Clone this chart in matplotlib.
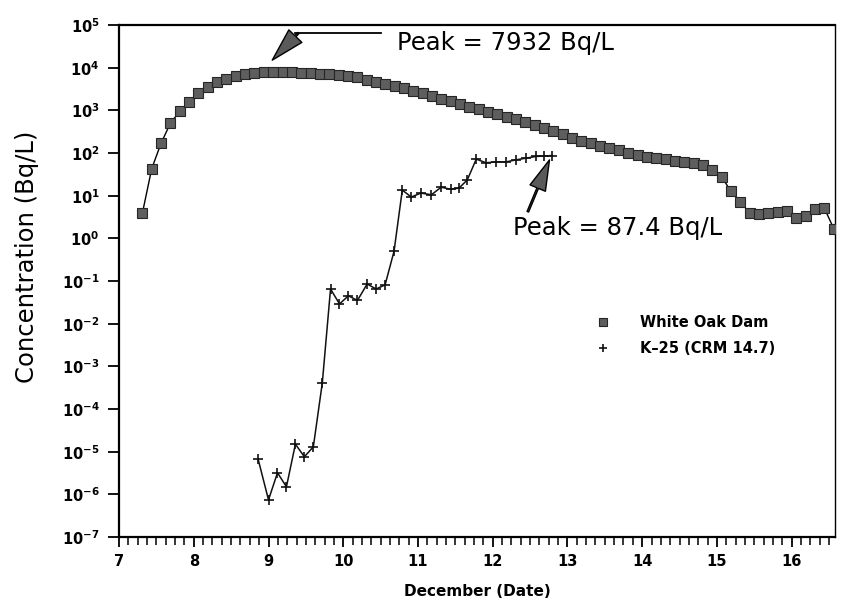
import matplotlib
matplotlib.use("Agg")
import matplotlib.pyplot as plt
from matplotlib.ticker import MultipleLocator, FixedLocator

# ---------------- data ----------------
wod_day = [7.3125, 7.4375, 7.5625, 7.6875, 7.8125, 7.9375, 8.0625, 8.1875, 8.3125, 8.4375,
           8.5625, 8.6875, 8.8125, 8.9375, 9.0625, 9.1875, 9.3125, 9.4375, 9.5625, 9.6875,
           9.8125, 9.9375, 10.0625, 10.1875, 10.3125, 10.4375, 10.5625, 10.6875, 10.8125, 10.9375,
           11.0625, 11.1875, 11.3125, 11.4375, 11.5625, 11.6875, 11.8125, 11.9375, 12.0625, 12.1875,
           12.3125, 12.4375, 12.5625, 12.6875, 12.8125, 12.9375, 13.0625, 13.1875, 13.3125, 13.4375,
           13.5625, 13.6875, 13.8125, 13.9375, 14.0625, 14.1875, 14.3125, 14.4375, 14.5625, 14.6875,
           14.8125, 14.9375, 15.0625, 15.1875, 15.3125, 15.4375, 15.5625, 15.6875, 15.8125, 15.9375,
           16.0625, 16.1875, 16.3125, 16.4375, 16.5625]
wod_conc = [3.9, 43, 170, 500, 950, 1580, 2500, 3550, 4570, 5500,
            6300, 7000, 7500, 7820, 7932, 7890, 7760, 7590, 7410, 7160,
            6920, 6610, 6310, 5890, 5250, 4680, 4170, 3720, 3310, 2880,
            2510, 2190, 1860, 1620, 1410, 1230, 1070, 933, 813, 708,
            617, 525, 447, 380, 324, 275, 229, 195, 170, 148,
            129, 115, 102, 91, 81, 76, 71, 66, 63, 59,
            52, 40, 28, 12.6, 7.1, 4.0, 3.8, 3.9, 4.2, 4.4,
            3.0, 3.3, 4.9, 5.1, 1.7]

k25_day = [8.86, 9.00, 9.12, 9.24, 9.36, 9.48, 9.60, 9.72, 9.83, 9.95,
           10.07, 10.19, 10.32, 10.44, 10.56, 10.68, 10.79, 10.91, 11.04, 11.18,
           11.31, 11.44, 11.55, 11.66, 11.78, 11.91, 12.05, 12.18, 12.31, 12.45,
           12.58, 12.69, 12.80]
k25_conc = [6.8e-6, 7.4e-7, 3.2e-6, 1.5e-6, 1.5e-5, 7.6e-6, 1.3e-5, 4.1e-4, 6.5e-2, 2.9e-2,
            4.5e-2, 3.5e-2, 8.5e-2, 6.5e-2, 8.1e-2, 0.5, 13.5, 9.3, 11.5, 10.5,
            15.8, 14.1, 15.1, 23.4, 72, 59, 62, 62, 69, 76,
            83, 85, 87.4]

series_labels = ["White Oak Dam", "K\u201325 (CRM 14.7)"]
x_ticks = [7, 8, 9, 10, 11, 12, 13, 14, 15, 16]
x_tick_labels = ["7", "8", "9", "10", "11", "12", "13", "14", "15", "16"]
y_ticks = [1e-7, 1e-6, 1e-5, 1e-4, 1e-3, 1e-2, 1e-1, 1e0, 1e1, 1e2, 1e3, 1e4, 1e5]
y_tick_labels = [r"$\mathbf{10^{-7}}$", r"$\mathbf{10^{-6}}$", r"$\mathbf{10^{-5}}$",
                 r"$\mathbf{10^{-4}}$", r"$\mathbf{10^{-3}}$", r"$\mathbf{10^{-2}}$",
                 r"$\mathbf{10^{-1}}$", r"$\mathbf{10^{0}}$", r"$\mathbf{10^{1}}$",
                 r"$\mathbf{10^{2}}$", r"$\mathbf{10^{3}}$", r"$\mathbf{10^{4}}$",
                 r"$\mathbf{10^{5}}$"]
peak1_text = "Peak = 7932 Bq/L"
peak2_text = "Peak = 87.4 Bq/L"

# ---------------- figure ----------------
plt.rcParams['font.family'] = ['DejaVu Sans']
fig = plt.figure(figsize=(8.43, 6.13), dpi=100)
ax = fig.add_axes([0.1412, 0.124, 0.8493, 0.8352])

ax.set_yscale('log')
ax.set_xlim(7, 16.58)
ax.set_ylim(1e-7, 1e5)

ax.plot(wod_day, wod_conc, color='black', lw=1.0, marker='s', markersize=7.5,
        markerfacecolor='#5e5e5e', markeredgecolor='#262626', markeredgewidth=0.8,
        label=series_labels[0], zorder=3)
ax.plot(k25_day, k25_conc, color='#111111', lw=1.1, marker='+', markersize=6.5,
        markeredgewidth=1.2, label=series_labels[1], zorder=3)

# ticks
ax.xaxis.set_major_locator(FixedLocator(x_ticks))
ax.set_xticklabels(x_tick_labels, fontsize=10.5, fontweight='bold')
ax.xaxis.set_minor_locator(MultipleLocator(0.125))
ax.yaxis.set_major_locator(FixedLocator(y_ticks))
ax.yaxis.set_minor_locator(FixedLocator([]))
ax.set_yticklabels(y_tick_labels, fontsize=10.5)
ax.tick_params(axis='x', which='major', direction='out', length=7, width=1.3, pad=5, top=False)
ax.tick_params(axis='x', which='minor', direction='out', length=6, width=1.1, top=False)
ax.tick_params(axis='y', which='major', direction='out', length=8, width=1.3, pad=6, right=False)

for s in ['left', 'bottom', 'top']:
    ax.spines[s].set_linewidth(1.6)
ax.spines['right'].set_linewidth(1.0)

ax.set_xlabel("December (Date)", fontsize=11, fontweight='bold', labelpad=11)
ax.set_ylabel("Concentration (Bq/L)", fontsize=17.5)
ax.yaxis.set_label_coords(-0.112, 0.547)

# annotation 1 (peak of White Oak Dam)
ax.plot([9.35, 10.50], [6.5e4, 6.5e4], color='black', lw=1.3, zorder=4)
ax.annotate("", xy=(9.05, 1.5e4), xytext=(9.40, 6.5e4),
            arrowprops=dict(facecolor='#5a5a5a', edgecolor='black', linewidth=1.0,
                            width=1.2, headwidth=13, headlength=24, shrink=0))
ax.text(10.72, 3.8e4, peak1_text, fontsize=17.5, ha='left', va='center')

# annotation 2 (peak of K-25)
ax.annotate("", xy=(12.76, 69), xytext=(12.47, 4.2),
            arrowprops=dict(facecolor='#5a5a5a', edgecolor='black', linewidth=1.0,
                            width=1.2, headwidth=12, headlength=22, shrink=0))
ax.text(12.27, 1.74, peak2_text, fontsize=17.5, ha='left', va='center')

leg = ax.legend(loc='upper left', bbox_to_anchor=(0.666, 0.433), frameon=False,
                handlelength=1.0, handletextpad=2.0, labelspacing=0.75, borderpad=0,
                borderaxespad=0, prop={'weight': 'bold', 'size': 10.5})
for h in leg.legend_handles:
    h.set_linestyle('None')
    h.set_markersize(6)

fig.savefig("out.png", dpi=100)
